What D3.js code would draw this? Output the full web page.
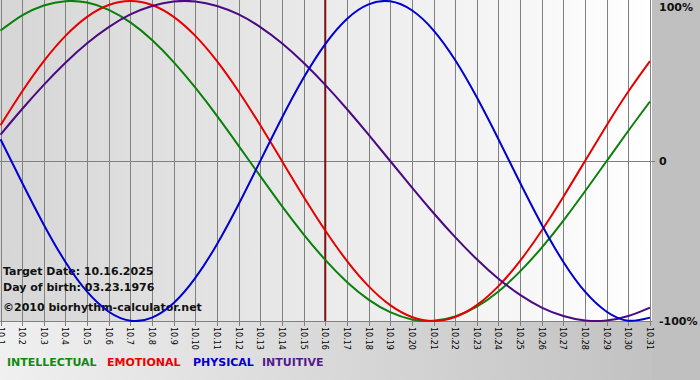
<!DOCTYPE html>
<html><head><meta charset="utf-8">
<script src="https://cdn.jsdelivr.net/npm/d3@7"></script>
<style>html,body{margin:0;padding:0;background:#fff;}svg{display:block;}</style>
</head><body>
<div id="chart"></div>
<script>
const days = d3.range(1, 32);
const dayLabels = days.map(d => "10." + d);
const targetDay = 16;
const intellectual = [0.815,0.910,0.972,0.999,0.990,0.945,0.866,0.756,0.618,0.458,0.282,0.095,-0.095,-0.282,-0.458,-0.618,-0.756,-0.866,-0.945,-0.990,-0.999,-0.972,-0.910,-0.815,-0.690,-0.541,-0.372,-0.189,0,0.189,0.372];
const emotional = [0.223,0.434,0.624,0.782,0.901,0.975,1,0.975,0.901,0.782,0.624,0.434,0.223,0,-0.223,-0.434,-0.624,-0.782,-0.901,-0.975,-1,-0.975,-0.901,-0.782,-0.624,-0.434,-0.223,0,0.223,0.434,0.624];
const physical = [0.136,-0.136,-0.398,-0.631,-0.817,-0.942,-0.998,-0.979,-0.888,-0.731,-0.520,-0.270,0,0.270,0.520,0.731,0.888,0.979,0.998,0.942,0.817,0.631,0.398,0.136,-0.136,-0.398,-0.631,-0.817,-0.942,-0.998,-0.979];
const intuitive = [0.165,0.325,0.476,0.614,0.736,0.837,0.916,0.969,0.997,0.997,0.969,0.916,0.837,0.736,0.614,0.476,0.325,0.165,0,-0.165,-0.325,-0.476,-0.614,-0.736,-0.837,-0.916,-0.969,-0.997,-0.997,-0.969,-0.916];
const yTicks = [1, 0, -1];
const yTickLabels = ["100%", "0", "-100%"];
const infoLines = ["Target Date: 10.16.2025", "Day of birth: 03.23.1976", "\u00a92010 biorhythm-calculator.net"];
const seriesNames = ["INTELLECTUAL", "EMOTIONAL", "PHYSICAL", "INTUITIVE"];
const seriesColors = ["#0a800a", "#e60000", "#0000d0", "#4b0a82"];
const legendColors = ["#108a10", "#ee0000", "#0000cc", "#551a8b"];
const seriesData = [intellectual, emotional, intuitive, physical];
const seriesDrawColors = [seriesColors[0], seriesColors[1], seriesColors[3], seriesColors[2]];

const W = 700, H = 380;
const svg = d3.select("#chart").append("svg").attr("width", W).attr("height", H)
  .attr("font-family", "DejaVu Sans, Verdana, sans-serif");
const defs = svg.append("defs");
const g1 = defs.append("linearGradient").attr("id", "outerBg").attr("x1", 0).attr("x2", 1).attr("y1", 0).attr("y2", 0);
g1.append("stop").attr("offset", "0%").attr("stop-color", "#f0f0f0");
g1.append("stop").attr("offset", "93%").attr("stop-color", "#c2c2c2");
g1.append("stop").attr("offset", "100%").attr("stop-color", "#c0c0c0");
const g2 = defs.append("linearGradient").attr("id", "plotBg").attr("x1", 0).attr("x2", 1).attr("y1", 0).attr("y2", 0);
g2.append("stop").attr("offset", "0%").attr("stop-color", "#d6d6d6");
g2.append("stop").attr("offset", "100%").attr("stop-color", "#ffffff");
defs.append("clipPath").attr("id", "plotClip").append("rect").attr("x", 0).attr("y", 0).attr("width", 652).attr("height", 322);

const x = d3.scaleLinear().domain([1, 31]).range([0.5, 650]);
const y = d3.scaleLinear().domain([-1, 1]).range([321, 1]);

svg.append("rect").attr("width", W).attr("height", H).attr("fill", "url(#outerBg)");
svg.append("rect").attr("x", 652).attr("y", 0).attr("width", 48).attr("height", H).attr("fill", "#c0c0c0");
svg.append("rect").attr("x", 0).attr("y", 0).attr("width", 652).attr("height", 321).attr("fill", "url(#plotBg)");

// vertical grid + ticks
svg.append("g").selectAll("line").data(days).join("line")
  .attr("x1", d => Math.round(x(d)) + 0.5).attr("x2", d => Math.round(x(d)) + 0.5)
  .attr("y1", 0).attr("y2", 326).attr("stroke", "#808080").attr("stroke-width", 1);
// zero line and bottom axis
svg.append("line").attr("x1", 0).attr("x2", 655).attr("y1", Math.round(y(0)) + 0.5).attr("y2", Math.round(y(0)) + 0.5).attr("stroke", "#808080");
svg.append("line").attr("x1", 0).attr("x2", 652).attr("y1", Math.round(y(-1)) + 0.5).attr("y2", Math.round(y(-1)) + 0.5).attr("stroke", "#808080");

// x labels rotated
svg.append("g").selectAll("text").data(days).join("text")
  .attr("transform", d => `translate(${x(d) - 3},327) rotate(90)`)
  .attr("font-size", 8).attr("fill", "#000")
  .text((d, i) => dayLabels[i]);

// y labels
svg.append("g").selectAll("text").data(yTicks).join("text")
  .attr("x", 659).attr("y", d => Math.max(11, y(d) + 4))
  .attr("font-size", 11).attr("font-weight", "bold").attr("fill", "#111")
  .text((d, i) => yTickLabels[i]);

// info text
svg.append("g").selectAll("text").data(infoLines).join("text")
  .attr("x", 3).attr("y", (d, i) => [275, 291, 311][i])
  .attr("font-size", 11).attr("font-weight", "bold").attr("fill", "#111")
  .text(d => d);

// target line
svg.append("line").attr("x1", x(targetDay)).attr("x2", x(targetDay)).attr("y1", 0).attr("y2", 321)
  .attr("stroke", "#7a1010").attr("stroke-width", 2);

// curves
const line = d3.line().x((d, i) => x(days[i])).y(d => y(d)).curve(d3.curveNatural);
const cg = svg.append("g").attr("clip-path", "url(#plotClip)");
seriesData.forEach((s, k) => {
  cg.append("path").attr("d", line(s)).attr("fill", "none")
    .attr("stroke", seriesDrawColors[k]).attr("stroke-width", 2);
});

// legend
const legendX = [7, 107, 193, 262];
svg.append("g").selectAll("text").data(seriesNames).join("text")
  .attr("x", (d, i) => legendX[i]).attr("y", 366)
  .attr("font-size", 11).attr("font-weight", "bold")
  .attr("fill", (d, i) => legendColors[i]).text(d => d);
</script>
</body></html>
